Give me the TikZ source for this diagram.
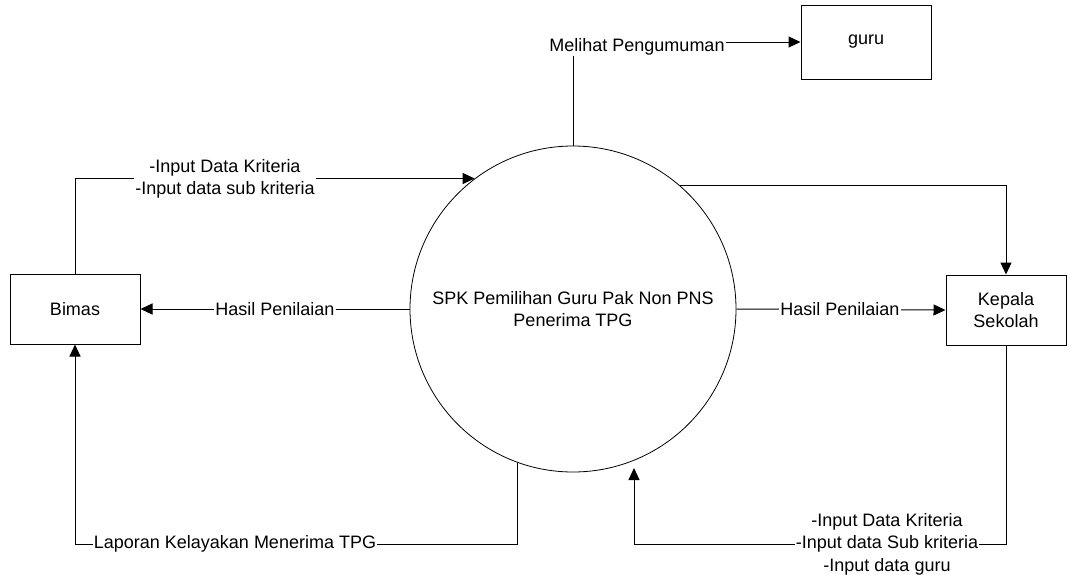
\documentclass[tikz,border=0pt]{standalone}
\usepackage{fontspec}
\setmainfont{Liberation Sans}
\usetikzlibrary{arrows.meta}

\begin{document}
\begin{tikzpicture}[x=1pt,y=-1pt,
  font=\fontsize{18}{22.5}\selectfont, >={Triangle[length=12pt,width=11pt]},
  ent/.style={draw,line width=1pt,minimum width=130pt,minimum height=70pt,align=center,inner sep=0pt},
  proc/.style={draw,circle,line width=0.8pt,minimum size=326pt,inner sep=0pt,align=center},
  lbl/.style={fill=white,inner sep=1pt,align=center},
  flow/.style={line width=1pt}
]
\useasboundingbox (0,0) rectangle (1070,574);
\node[proc] (spk) at (573,309) {SPK Pemilihan Guru Pak Non PNS\\Penerima TPG};
\node[ent] (bimas) at (75,309) {Bimas};
\node[ent,minimum width=120pt] (kepala) at (1006,310) {Kepala\\Sekolah};
\node[ent,minimum height=74pt] (guru) at (866,42) {guru};
\coordinate (bl) at (75,544);
\coordinate (br) at (634,544);
\coordinate (up) at (634,468);
% flows
\draw[flow,->] (spk.north) |- (guru.west);
\draw[flow,->] (bimas.north) |- (spk.127);
\draw[flow,->] (spk.49) -| (kepala.north);
\draw[flow,->] (spk.west) -- (bimas.east);
\draw[flow,->] (spk.east) -- (kepala.west);
\draw[flow,->] (spk.250) |- (bl) -- (bimas.south);
\draw[flow,->] (kepala.south) |- (br) -- (up);
% labels
\node[lbl] (lmelihat) at (637,47) {Melihat Pengumuman};
\node[lbl] (lkrit) at (225,179) {-Input Data Kriteria\\-Input data sub kriteria};
\node[lbl] (lhasilb) at (275,309) {Hasil Penilaian};
\node[lbl] (lhasilk) at (840,309) {Hasil Penilaian};
\node[lbl] (llapor) at (235,544) {Laporan Kelayakan Menerima TPG};
\node[lbl] (linput) at (887,544) {-Input Data Kriteria\\-Input data Sub kriteria\\-Input data guru};
\end{tikzpicture}
\end{document}
